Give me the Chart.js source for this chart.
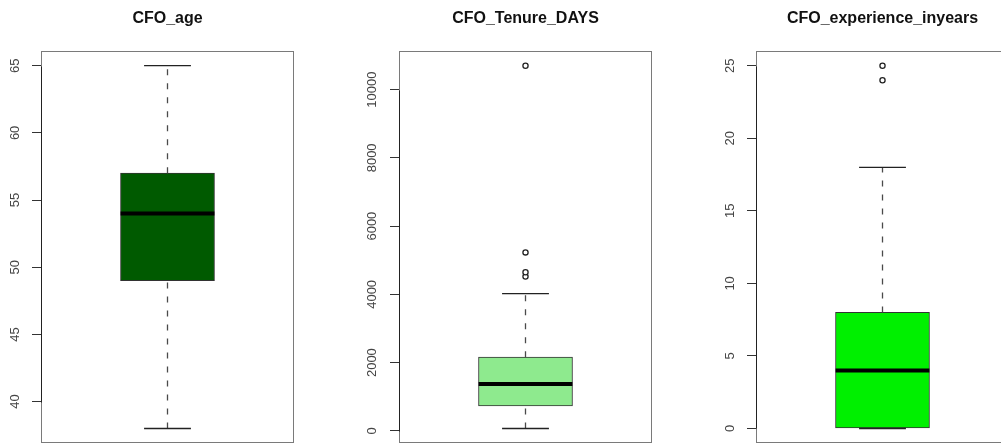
<!DOCTYPE html>
<html>
<head>
<meta charset="utf-8">
<script src="https://cdn.jsdelivr.net/npm/chart.js@4.4.1/dist/chart.umd.min.js"></script>
<style>
  html, body { margin: 0; padding: 0; background: #fff; overflow: hidden; width: 1001px; height: 444px; }
  canvas { position: absolute; top: 0; }
</style>
</head>
<body>
<canvas id="age" width="335" height="452" style="left:0px"></canvas>
<canvas id="tenure" width="335" height="452" style="left:358px"></canvas>
<canvas id="experience" width="335" height="452" style="left:715px"></canvas>
<script>
// Five-number summaries of the three CFO variables (one entry per panel)
const panelTitles = ['CFO_age', 'CFO_Tenure_DAYS', 'CFO_experience_inyears'];
const whiskerLow  = [38, 70, 0];
const quartile1   = [49, 730, 0];
const medians     = [54, 1370, 4];
const quartile3   = [57, 2160, 8];
const whiskerHigh = [65, 4020, 18];

// Points beyond 1.5 * IQR
const outliersAge        = [];
const outliersTenure     = [4520, 4650, 5230, 10700];
const outliersExperience = [24, 25];

// Y axis tick values
const ticksAge        = [40, 45, 50, 55, 60, 65];
const ticksTenure     = [0, 2000, 4000, 6000, 8000, 10000];
const ticksExperience = [0, 5, 10, 15, 20, 25];

const outlierSets = [outliersAge, outliersTenure, outliersExperience];
const tickSets = [ticksAge, ticksTenure, ticksExperience];

// Styling
const FONT = "'Liberation Sans', Arial, Helvetica, sans-serif";
const boxFills = ['#005a00', '#8eea8e', '#00f000'];
const labelPadding = [9, 0, 9];
const BOX_HALF = 0.2;   // box half-width in x units (box centred at 1)
const CAP_HALF = 0.1;   // staple half-width

// Plot frame + axis line spanning first..last tick
const framePlugin = {
  id: 'frame',
  afterDatasetsDraw(chart) {
    const { ctx, chartArea: a, scales: { y } } = chart;
    const L = Math.round(a.left) + 0.5, R = Math.round(a.right) - 0.5;
    const T = Math.round(a.top) + 0.5, B = Math.round(a.bottom) - 0.5;
    ctx.save();
    ctx.lineWidth = 1;
    ctx.strokeStyle = '#7a7a7a';
    ctx.strokeRect(L, T, R - L, B - T);
    const tv = y.ticks.map(t => t.value);
    const y0 = y.getPixelForValue(Math.min(...tv));
    const y1 = y.getPixelForValue(Math.max(...tv));
    ctx.strokeStyle = '#222';
    ctx.beginPath();
    ctx.moveTo(L, Math.round(y0) + 0.5);
    ctx.lineTo(L, Math.round(y1) + 0.5);
    ctx.stroke();
    ctx.restore();
  }
};

function segment(x0, y0, x1, y1) {
  return [{ x: x0, y: y0 }, { x: x1, y: y1 }];
}

function fixedWidth(w) {
  return s => { s.width = w; s.paddingTop = 0; s.paddingBottom = 0; };
}

function makePanel(canvasId, i) {
  const lo = Math.min(whiskerLow[i], ...outlierSets[i]);
  const hi = Math.max(whiskerHigh[i], ...outlierSets[i]);
  const ext = (hi - lo) * 0.04;
  const ticks = tickSets[i];

  const lineBase = { type: 'line', pointRadius: 0, fill: false, tension: 0 };

  new Chart(document.getElementById(canvasId), {
    type: 'bar',
    data: {
      datasets: [
        Object.assign({}, lineBase, {
          data: segment(1 - BOX_HALF, medians[i], 1 + BOX_HALF, medians[i]),
          borderColor: '#000', borderWidth: 4
        }),
        {
          type: 'line', showLine: false,
          data: outlierSets[i].map(v => ({ x: 1, y: v })),
          pointRadius: 2.6, pointBorderWidth: 1.3,
          pointBorderColor: '#222', pointBackgroundColor: '#fff'
        },
        Object.assign({}, lineBase, {
          data: segment(1 - CAP_HALF, whiskerHigh[i], 1 + CAP_HALF, whiskerHigh[i]),
          borderColor: '#222', borderWidth: 1.3
        }),
        Object.assign({}, lineBase, {
          data: segment(1 - CAP_HALF, whiskerLow[i], 1 + CAP_HALF, whiskerLow[i]),
          borderColor: '#222', borderWidth: 1.3
        }),
        Object.assign({}, lineBase, {
          data: segment(1, quartile3[i], 1, whiskerHigh[i]),
          borderColor: '#4a4a4a', borderWidth: 1.3, borderDash: [6, 8]
        }),
        Object.assign({}, lineBase, {
          data: segment(1, whiskerLow[i], 1, quartile1[i]),
          borderColor: '#4a4a4a', borderWidth: 1.3, borderDash: [6, 8]
        }),
        {
          type: 'bar',
          data: [{ x: 1, y: [quartile1[i], quartile3[i]] }],
          backgroundColor: boxFills[i],
          borderColor: '#333', borderWidth: 1, borderSkipped: false,
          barThickness: 94
        }
      ]
    },
    options: {
      responsive: false,
      animation: false,
      events: [],
      layout: { padding: { left: 0, right: 0, top: 0, bottom: 9 } },
      plugins: {
        legend: { display: false },
        tooltip: { enabled: false },
        title: {
          display: true,
          text: panelTitles[i],
          color: '#111',
          font: { family: FONT, size: 16, weight: 'bold' },
          padding: { top: 9, bottom: 23 }
        }
      },
      scales: {
        x: { type: 'linear', min: 0.46, max: 1.54, offset: false, display: false },
        y: {
          type: 'linear',
          min: lo - ext,
          max: hi + ext,
          afterBuildTicks: s => { s.ticks = ticks.map(v => ({ value: v })); },
          afterFit: fixedWidth(41),
          border: { display: false },
          grid: { drawOnChartArea: false, tickLength: 9, color: '#333', tickColor: '#333' },
          ticks: {
            minRotation: 90, maxRotation: 90, crossAlign: 'center',
            padding: labelPadding[i], color: '#444',
            font: { family: FONT, size: 13 },
            callback: v => String(v)
          }
        },
        // empty right-hand margin so the title sits centred over the plot
        margin: {
          type: 'linear', position: 'right', display: true,
          afterFit: fixedWidth(41),
          border: { display: false },
          grid: { display: false },
          ticks: { display: false }
        }
      }
    },
    plugins: [framePlugin]
  });
}

makePanel('age', 0);
makePanel('tenure', 1);
makePanel('experience', 2);
</script>
</body>
</html>
